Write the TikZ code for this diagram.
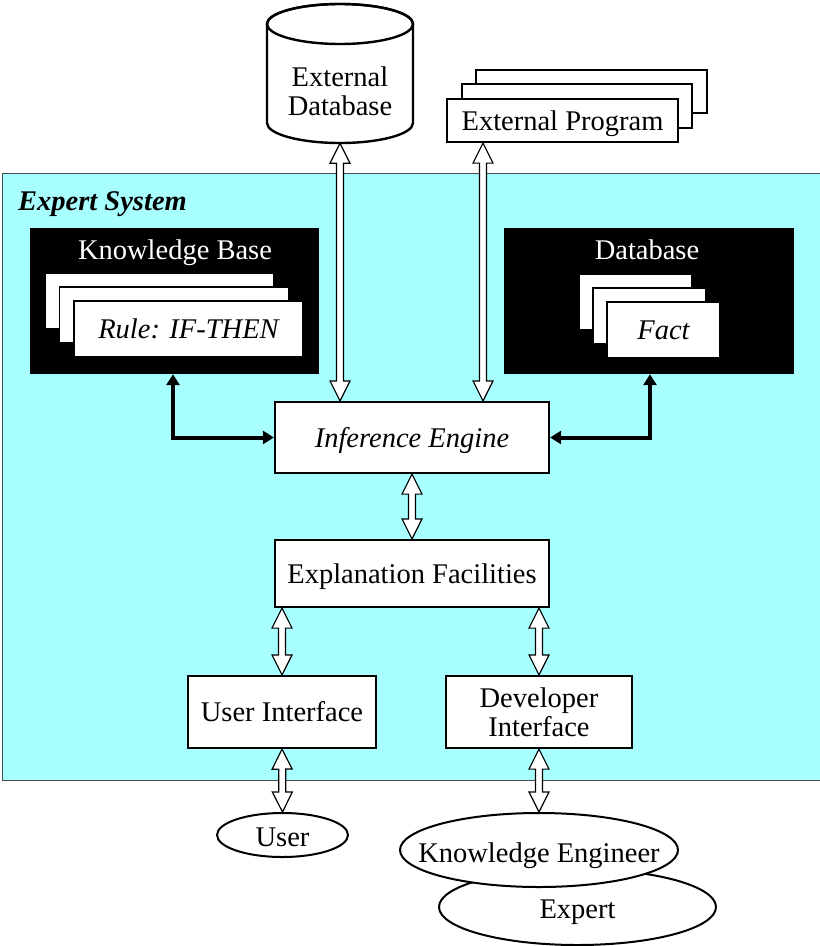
\documentclass[tikz,border=0pt]{standalone}
\usepackage{fontspec}
\setmainfont{Liberation Serif}
\usetikzlibrary{calc,shapes.geometric,arrows.meta}
\definecolor{syscyan}{RGB}{168,255,255}
\definecolor{sysedge}{RGB}{70,75,75}
\tikzset{
  txt/.style={font=\fontsize{28.5}{29}\selectfont},
  itxt/.style={font=\fontsize{28.5}{29}\selectfont\itshape},
  boxline/.style={text height=20pt, text depth=1pt},
  ovalline/.style={inner sep=0pt, text height=23pt, text depth=0pt},
  box/.style={txt, draw, fill=white, line width=2.2pt, inner sep=0pt, align=center},
  card/.style={txt, draw, fill=white, line width=1.5pt, inner sep=0pt},
  panel/.style={fill=black, inner sep=0pt},
  oval/.style={ellipse, draw, fill=white, line width=2pt, inner sep=0pt},
  link/.style={line width=4pt, {Triangle[length=11pt,width=13pt]}-{Triangle[length=11pt,width=13pt]}},
  hollow/.style={draw, fill=white, line width=1.2pt, line join=miter,
    to path={
      (\tikztostart)
      -- ($(\tikztostart)!20pt!(\tikztotarget)!10pt!90:(\tikztotarget)$)
      -- ($(\tikztostart)!20pt!(\tikztotarget)!3.5pt!90:(\tikztotarget)$)
      -- ($(\tikztotarget)!20pt!(\tikztostart)!3.5pt!-90:(\tikztostart)$)
      -- ($(\tikztotarget)!20pt!(\tikztostart)!10pt!-90:(\tikztostart)$)
      -- (\tikztotarget)
      -- ($(\tikztotarget)!20pt!(\tikztostart)!10pt!90:(\tikztostart)$)
      -- ($(\tikztotarget)!20pt!(\tikztostart)!3.5pt!90:(\tikztostart)$)
      -- ($(\tikztostart)!20pt!(\tikztotarget)!3.5pt!-90:(\tikztotarget)$)
      -- ($(\tikztostart)!20pt!(\tikztotarget)!10pt!-90:(\tikztotarget)$)
      -- cycle}}
}
\begin{document}
\begin{tikzpicture}[x=1pt,y=-1pt]
\useasboundingbox (0,0) rectangle (820,946);

% expert system frame (runs past the right edge)
\node[draw=sysedge, fill=syscyan, line width=1pt, minimum width=840pt, minimum height=607pt, inner sep=0pt] (sys) at (422,477) {};
\node[anchor=west, font=\fontsize{28.5}{29}\selectfont\bfseries\itshape, inner sep=0pt, boxline] (systitle) at (18,201) {Expert System};

% external database (cylinder)
\node[minimum width=146pt, minimum height=139pt, inner sep=0pt] (extdb) at (340,73.5) {};
\draw[line width=2.4pt, fill=white] (267,24) -- (267,123) arc[start angle=180, end angle=360, x radius=73pt, y radius=20pt] -- (413,24) arc[start angle=0, end angle=180, x radius=73pt, y radius=20pt] -- cycle;
\draw[line width=2.4pt] (340,24) ellipse [x radius=73pt, y radius=20pt];
\node[txt, align=center, inner sep=0pt] (extdbtext) at (340,91) {External\\Database};

% external program (stack)
\node[box, minimum width=231pt, minimum height=43pt] (ep3) at (591.5,91.5) {};
\node[box, minimum width=230pt, minimum height=44pt] (ep2) at (577,106) {};
\node[box, boxline, minimum width=231pt, minimum height=43pt] (ep) at (562.5,120.5) {External Program};

% knowledge base
\node[panel, minimum width=289pt, minimum height=146pt] (kb) at (174.5,301) {};
\node[txt, boxline, text=white, inner sep=0pt] (kbtitle) at (175,250) {Knowledge Base};
\node[card, minimum width=229pt, minimum height=56pt] (kb1) at (159.5,301) {};
\node[card, minimum width=229pt, minimum height=56pt] (kb2) at (174,315) {};
\node[card, itxt, boxline, minimum width=229pt, minimum height=56pt] (kb3) at (188.5,329) {Rule: IF-THEN};

% database
\node[panel, minimum width=290pt, minimum height=146pt] (db) at (649,301) {};
\node[txt, boxline, text=white, inner sep=0pt] (dbtitle) at (647,250) {Database};
\node[card, minimum width=113pt, minimum height=56pt] (db1) at (635.5,302) {};
\node[card, minimum width=113pt, minimum height=56pt] (db2) at (649.5,316) {};
\node[card, itxt, boxline, minimum width=113pt, minimum height=56pt] (db3) at (663.5,330) {Fact};

% processing boxes
\node[box, itxt, boxline, minimum width=274pt, minimum height=71pt] (ie) at (412,437.5) {Inference Engine};
\node[box, boxline, minimum width=274pt, minimum height=67pt] (ef) at (412,573.5) {Explanation Facilities};
\node[box, boxline, minimum width=188pt, minimum height=72pt] (ui) at (282,712) {User Interface};
\node[box, minimum width=186pt, minimum height=72pt] (di) at (539,712) {Developer\\Interface};

% people
\node[oval, minimum width=131pt, minimum height=44pt] (user) at (282.5,835) {};
\node[txt, ovalline] (usertext) at (282.5,835) {User};
\node[oval, minimum width=277pt, minimum height=76pt] (expert) at (577.5,907) {};
\node[txt, ovalline] (experttext) at (577.5,907) {Expert};
\node[oval, minimum width=278pt, minimum height=74pt] (ke) at (539,850) {};
\node[txt, ovalline] (ketext) at (539,851) {Knowledge Engineer};

% thick links between stores and the inference engine
\coordinate (kbx) at (173,439);
\coordinate (dbx) at (650,439);
\draw[link] (kb.south -| kbx) |- (ie.west);
\draw[link] (db.south -| dbx) |- (ie.east);

% hollow two-way links
\coordinate (epx) at (483,0);
\path[hollow] (extdb.south) to (ie.north -| extdb.south);
\path[hollow] (ep.south -| epx) to (ie.north -| epx);
\path[hollow] (ie.south) to (ef.north);
\path[hollow] (ef.south -| ui.north) to (ui.north);
\path[hollow] (ef.south -| di.north) to (di.north);
\path[hollow] (ui.south) to (user.north);
\path[hollow] (di.south) to (ke.north);
\end{tikzpicture}
\end{document}
